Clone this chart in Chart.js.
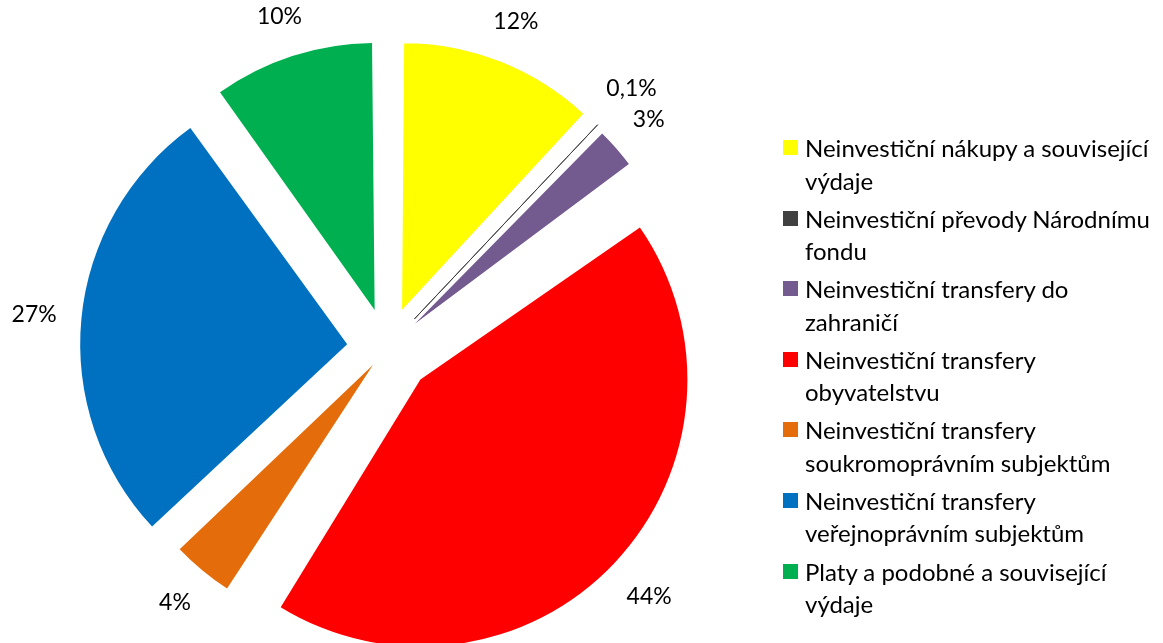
<!DOCTYPE html>
<html lang="cs">
<head>
  <meta charset="UTF-8" />
  <title>Struktura neinvestičních výdajů</title>
  <script src="https://cdn.jsdelivr.net/npm/chart.js"></script>
  <style>
    body {
      margin: 0;
      background: #fff;
      font-family: Lato, "Noto Sans", sans-serif;
      color: #000;
    }
    #wrap {
      position: relative;
      width: 1163px;
      height: 643px;
      overflow: hidden;
    }
    #legend {
      position: absolute;
      left: 783px;
      top: 132px;
      font-size: 24px;
      line-height: 32.5px;
    }
    .item {
      position: relative;
      padding-left: 22px;
      margin-bottom: 5.6px;
      white-space: nowrap;
    }
    .item span.box {
      position: absolute;
      left: 0;
      top: 8px;
      width: 15px;
      height: 15px;
    }
  </style>
</head>
<body>
  <div id="wrap">
    <canvas id="pieChart" width="1163" height="643"></canvas>
    <div id="legend"></div>
  </div>

  <script>
    // categories (legend text, already broken into the two lines used in the picture)
    const categories = [
      ["Neinvestiční nákupy a související", "výdaje"],
      ["Neinvestiční převody Národnímu", "fondu"],
      ["Neinvestiční transfery do", "zahraničí"],
      ["Neinvestiční transfery", "obyvatelstvu"],
      ["Neinvestiční transfery", "soukromoprávním subjektům"],
      ["Neinvestiční transfery", "veřejnoprávním subjektům"],
      ["Platy a podobné a související", "výdaje"]
    ];
    // shares in %
    const shares = [12, 0.1, 3, 44, 4, 27, 10];

    // styling
    const colors = ["#FFFF00", "#404040", "#735A8F", "#FF0000", "#E46C0A", "#0070C0", "#00B050"];
    const explode = [41, 40, 37, 46, 22, 40, 40];   // px each slice is pulled out
    const pieRadius = 267;

    const pctText = v => String(v).replace(".", ",") + "%";

    // legend
    const legend = document.getElementById("legend");
    categories.forEach((lines, i) => {
      const div = document.createElement("div");
      div.className = "item";
      const box = document.createElement("span");
      box.className = "box";
      box.style.background = colors[i];
      div.appendChild(box);
      lines.forEach((t, j) => {
        if (j) div.appendChild(document.createElement("br"));
        div.appendChild(document.createTextNode(t));
      });
      legend.appendChild(div);
    });

    // chart.js grows small exploded slices; keep every slice at the same radius
    const explodeFix = {
      id: "explodeFix",
      afterDatasetUpdate(chart, args) {
        args.meta.data.forEach((arc, i) => {
          const circ = arc.endAngle - arc.startAngle;
          arc.outerRadius = pieRadius - explode[i] * (1 - Math.sin(Math.min(Math.PI, circ)));
        });
      },
      afterDatasetsDraw(chart) {
        const ctx = chart.ctx;
        const meta = chart.getDatasetMeta(0);
        ctx.save();
        ctx.font = "23px Lato";
        ctx.fillStyle = "#000";
        ctx.textAlign = "center";
        ctx.textBaseline = "middle";
        meta.data.forEach((arc, i) => {
          const h = (arc.startAngle + arc.endAngle) / 2;
          const cx = arc.x + Math.cos(h) * explode[i];
          const cy = arc.y + Math.sin(h) * explode[i];
          const txt = pctText(shares[i]);
          const w = ctx.measureText(txt).width;
          const d = pieRadius + 24 + Math.abs(Math.cos(h)) * w / 2 + Math.abs(Math.sin(h)) * 11;
          ctx.fillText(txt, cx + Math.cos(h) * d, cy + Math.sin(h) * d);
        });
        ctx.restore();
      }
    };

    new Chart(document.getElementById("pieChart"), {
      type: "pie",
      data: {
        labels: categories.map(l => l.join(" ")),
        datasets: [{
          data: shares,
          backgroundColor: colors,
          borderColor: colors,
          borderWidth: [0, 1, 0, 0, 0, 0, 0],
          offset: explode.map(v => v * 4),
          radius: pieRadius
        }]
      },
      options: {
        responsive: false,
        animation: false,
        layout: { padding: { left: 0, right: 389, top: 53, bottom: 0 } },
        plugins: {
          legend: { display: false },
          tooltip: { enabled: false }
        }
      },
      plugins: [explodeFix]
    });
  </script>
</body>
</html>
